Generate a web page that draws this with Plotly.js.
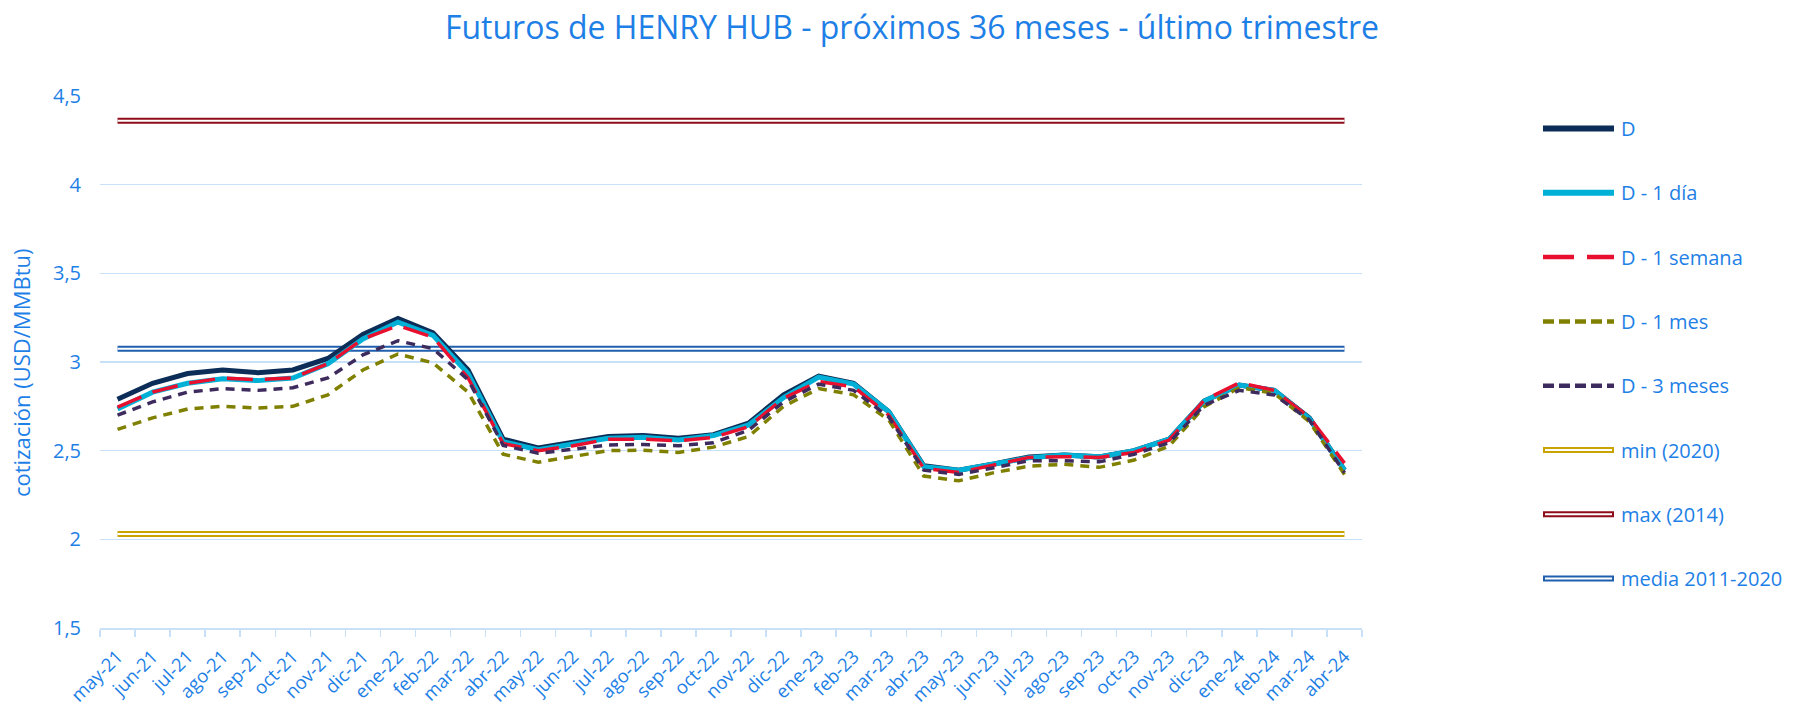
<!DOCTYPE html>
<html><head><meta charset="utf-8">
<script src="https://cdn.plot.ly/plotly-3.0.1.min.js"></script>
<style>html,body{margin:0;padding:0;background:#fff}#chart{width:1794px;height:709px}</style>
</head><body><div id="chart"></div>
<script>
const months = ['may-21','jun-21','jul-21','ago-21','sep-21','oct-21','nov-21','dic-21','ene-22','feb-22','mar-22','abr-22',
  'may-22','jun-22','jul-22','ago-22','sep-22','oct-22','nov-22','dic-22','ene-23','feb-23','mar-23','abr-23',
  'may-23','jun-23','jul-23','ago-23','sep-23','oct-23','nov-23','dic-23','ene-24','feb-24','mar-24','abr-24'];

const seriesD = [2.79,2.88,2.935,2.955,2.94,2.955,3.02,3.155,3.245,3.165,2.955,2.565,2.515,2.545,2.58,2.585,2.57,2.59,2.655,2.815,2.92,2.88,2.72,2.415,2.39,2.425,2.465,2.475,2.465,2.5,2.565,2.78,2.87,2.84,2.685,2.39];
const seriesD1dia = [2.735,2.83,2.88,2.905,2.895,2.91,2.99,3.13,3.225,3.15,2.935,2.55,2.505,2.535,2.57,2.575,2.56,2.585,2.645,2.8,2.915,2.875,2.72,2.41,2.39,2.425,2.46,2.475,2.465,2.5,2.565,2.78,2.87,2.84,2.68,2.39];
const seriesD1semana = [2.745,2.83,2.88,2.91,2.9,2.91,2.99,3.13,3.205,3.14,2.91,2.54,2.5,2.528,2.565,2.565,2.555,2.575,2.635,2.795,2.89,2.86,2.7,2.4,2.377,2.42,2.462,2.466,2.462,2.49,2.56,2.785,2.883,2.84,2.687,2.43];
const seriesD1mes = [2.62,2.685,2.735,2.75,2.74,2.75,2.815,2.955,3.045,2.995,2.83,2.48,2.435,2.47,2.5,2.503,2.49,2.52,2.58,2.75,2.85,2.815,2.673,2.357,2.33,2.376,2.413,2.423,2.406,2.447,2.526,2.748,2.855,2.823,2.663,2.366];
const seriesD3meses = [2.7,2.775,2.83,2.85,2.84,2.855,2.91,3.04,3.12,3.075,2.9,2.53,2.485,2.507,2.532,2.535,2.528,2.545,2.615,2.775,2.875,2.84,2.69,2.39,2.366,2.404,2.443,2.443,2.437,2.48,2.545,2.757,2.84,2.814,2.673,2.376];

const refMin2020 = 2.03;
const refMax2014 = 4.36;
const refMedia = 3.075;

const seriesNames = ['D','D - 1 día','D - 1 semana','D - 1 mes','D - 3 meses','min (2020)','max (2014)','media 2011-2020'];
const yTicks = [1.5,2,2.5,3,3.5,4,4.5];

const BLUE_TXT = '#1E7FE6';
const GRID = '#C9E1F8';
const FONT = 'Open Sans, Noto Sans, sans-serif';

const styles = [
  {color:'#0B2D57', width:5, dash:'solid'},
  {color:'#00B0D6', width:5, dash:'solid'},
  {color:'#E8102E', width:3.5, dash:'26px,12px'},
  {color:'#808000', width:3.5, dash:'9px,7px'},
  {color:'#3E2B5E', width:3.5, dash:'9px,7px'},
  {color:'#C9A300', width:6, dash:'solid', dbl:true},
  {color:'#8E0C18', width:6, dash:'solid', dbl:true},
  {color:'#1F5FAE', width:6, dash:'solid', dbl:true}
];

const lineSeries = [seriesD, seriesD1dia, seriesD1semana, seriesD1mes, seriesD3meses];
const refValues = [refMin2020, refMax2014, refMedia];

const traces = [];
// reference double lines (drawn underneath)
refValues.forEach((v, k) => {
  const st = styles[5 + k];
  const xs = [months[0], months[months.length - 1]];
  traces.push({type:'scatter', mode:'lines', x: xs, y:[v, v], name: seriesNames[5 + k],
    line:{color: st.color, width: st.width}, showlegend:false, hoverinfo:'skip'});
  traces.push({type:'scatter', mode:'lines', x: xs, y:[v, v], name: seriesNames[5 + k] + ' ',
    line:{color:'#ffffff', width:2}, showlegend:false, hoverinfo:'skip'});
});
// main series in Excel order (later ones on top)
lineSeries.forEach((ys, k) => {
  const st = styles[k];
  traces.push({type:'scatter', mode:'lines', x: months, y: ys, name: seriesNames[k],
    line:{color: st.color, width: st.width, dash: st.dash}, showlegend:false});
});

// layout geometry in pixels
const W = 1794, H = 709, L = 100, R = 1362, T = 96, B = 628;
const px = p => (p - L) / (R - L);
const py = p => (B - p) / (B - T);

const shapes = [];
const annotations = [];
seriesNames.forEach((nm, k) => {
  const st = styles[k];
  const yy = py(128.5 + 64.3 * k);
  shapes.push({type:'line', xref:'paper', yref:'paper', x0: px(1543), x1: px(1614), y0: yy, y1: yy,
    line:{color: st.color, width: st.dbl ? 6 : st.width + 1, dash: st.dash === 'solid' ? 'solid' : (k === 2 ? '31px,13px' : '11px,5px')}});
  if (st.dbl) {
    shapes.push({type:'line', xref:'paper', yref:'paper', x0: px(1545), x1: px(1612), y0: yy, y1: yy,
      line:{color:'#ffffff', width:2}});
  }
  annotations.push({xref:'paper', yref:'paper', x: px(1619), y: yy, xanchor:'left', yanchor:'middle',
    text: nm, showarrow:false, font:{family: FONT, size:20, color: BLUE_TXT}});
});

// y-axis title as rotated text in the left margin
annotations.push({xref:'paper', yref:'paper', x: px(21), y: py(373), xanchor:'center', yanchor:'middle',
  textangle:-90, text:'cotización (USD/MMBtu)', showarrow:false, font:{family: FONT, size:22, color: BLUE_TXT}});

const layout = {
  width: W, height: H,
  margin:{l: L, r: W - R, t: T, b: H - B, pad:0},
  paper_bgcolor:'#ffffff', plot_bgcolor:'#ffffff',
  separators: ',.',
  showlegend:false,
  title:{text:'Futuros de HENRY HUB - próximos 36 meses - último trimestre',
    x: 912 / W, xref:'container', xanchor:'center', y: 1 - 28 / H, yref:'container', yanchor:'middle',
    font:{family: FONT, size:32, color: BLUE_TXT}},
  xaxis:{type:'category', categoryarray: months, range:[-0.5, months.length - 0.5],
    showgrid:false, showline:true, linecolor: GRID, linewidth:1.5,
    ticks:'outside', tickson:'boundaries', ticklen:7, tickcolor: GRID, tickwidth:1.5,
    ticklabelstandoff:9,
    tickangle:-45, tickfont:{family: FONT, size:18.5, color: BLUE_TXT}, automargin:false},
  yaxis:{range:[1.5, 4.5], tickvals: yTicks, showgrid:true, gridcolor: GRID, gridwidth:1.5,
    zeroline:false, showline:false, ticks:'', ticklabelstandoff:18,
    tickfont:{family: FONT, size:20, color: BLUE_TXT},
    automargin:false},
  shapes: shapes,
  annotations: annotations
};

Plotly.newPlot('chart', traces, layout, {displayModeBar:false, staticPlot:true});
</script>
</body></html>
